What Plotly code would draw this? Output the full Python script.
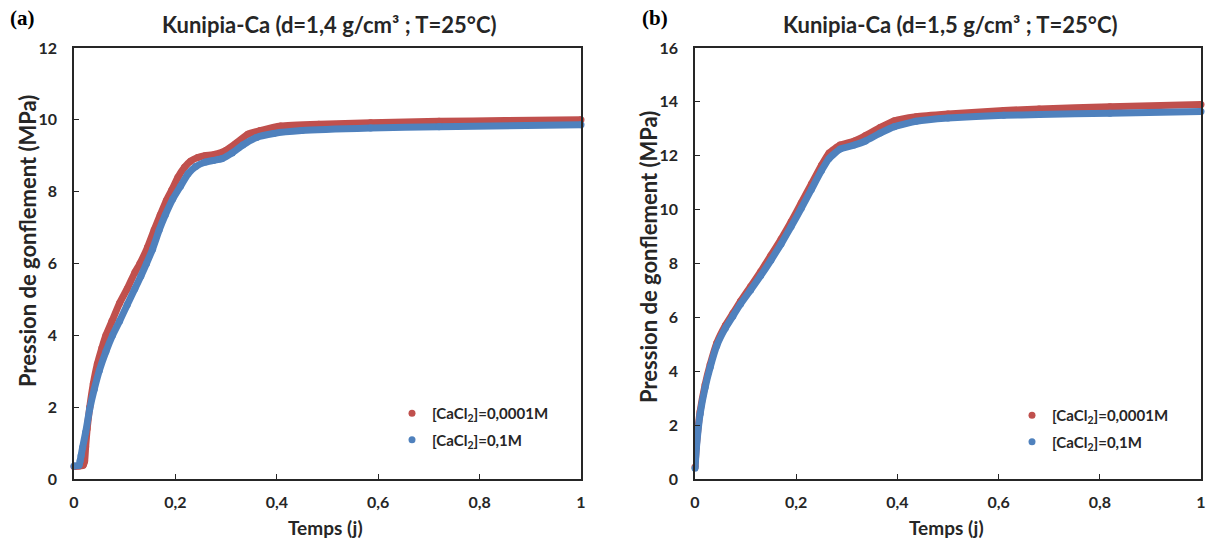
import plotly.graph_objects as go

# ---------------- data ----------------
# Panel (a): Kunipia-Ca d=1,4
t_a_red = [0, 0.01, 0.018, 0.021, 0.023, 0.026, 0.031, 0.038, 0.046, 0.055, 0.063, 0.075, 0.09, 0.105,
           0.12, 0.13, 0.145, 0.158, 0.17, 0.182, 0.193, 0.205, 0.218, 0.23, 0.244, 0.258, 0.278,
           0.30, 0.319, 0.343, 0.367, 0.408, 0.483, 0.585, 0.72, 0.85, 1.0]
p_a_red = [0.35, 0.36, 0.38, 0.5, 0.9, 1.4, 2.0, 2.65, 3.2, 3.65, 4.0, 4.4, 4.9, 5.3,
           5.75, 6.0, 6.45, 6.93, 7.35, 7.75, 8.05, 8.4, 8.68, 8.85, 8.95, 9.0, 9.04,
           9.15, 9.34, 9.6, 9.7, 9.83, 9.88, 9.92, 9.96, 9.98, 10.0]

t_a_blue = [0, 0.01, 0.012, 0.014, 0.017, 0.023, 0.031, 0.04, 0.05, 0.063, 0.076, 0.09, 0.105, 0.12,
            0.132, 0.143, 0.155, 0.168, 0.18, 0.195, 0.21, 0.225, 0.24, 0.258, 0.275, 0.292, 0.312,
            0.333, 0.36, 0.394, 0.449, 0.585, 0.72, 1.0]
p_a_blue = [0.36, 0.38, 0.5, 0.65, 0.88, 1.3, 1.95, 2.5, 3.02, 3.55, 4.0, 4.4, 4.85, 5.3,
            5.65, 6.0, 6.4, 6.93, 7.35, 7.8, 8.15, 8.5, 8.7, 8.82, 8.87, 8.92, 9.08,
            9.3, 9.51, 9.62, 9.7, 9.77, 9.81, 9.86]

# Panel (b): Kunipia-Ca d=1,5
t_b_red = [0, 0.003, 0.01, 0.02, 0.03, 0.043, 0.06, 0.075, 0.09, 0.11, 0.13, 0.15, 0.17, 0.19,
           0.21, 0.23, 0.25, 0.265, 0.287, 0.315, 0.337, 0.366, 0.394, 0.437, 0.50, 0.61, 0.68, 0.82, 1.0]
p_b_red = [0.45, 1.3, 2.5, 3.5, 4.25, 5.05, 5.7, 6.15, 6.6, 7.15, 7.7, 8.3, 8.9, 9.55,
           10.25, 10.95, 11.65, 12.1, 12.4, 12.55, 12.75, 13.05, 13.3, 13.45, 13.55, 13.68, 13.74, 13.82, 13.9]

t_b_blue = [0, 0.003, 0.01, 0.02, 0.03, 0.043, 0.06, 0.075, 0.09, 0.11, 0.13, 0.15, 0.17, 0.19,
            0.21, 0.23, 0.25, 0.265, 0.287, 0.315, 0.337, 0.366, 0.394, 0.437, 0.50, 0.61, 0.68, 0.82, 1.0]
p_b_blue = [0.4, 1.2, 2.4, 3.4, 4.15, 4.95, 5.6, 6.05, 6.5, 7.02, 7.55, 8.12, 8.72, 9.37,
            10.05, 10.75, 11.45, 11.9, 12.25, 12.4, 12.55, 12.84, 13.08, 13.28, 13.4, 13.5, 13.53, 13.58, 13.64]

series_names = ["[CaCl<sub>2</sub>]=0,0001M", "[CaCl<sub>2</sub>]=0,1M"]
titles = ["Kunipia-Ca (d=1,4 g/cm³ ; T=25°C)", "Kunipia-Ca (d=1,5 g/cm³ ; T=25°C)"]
panel_labels = ["(a)", "(b)"]
x_title = "Temps (j)"
y_title = "Pression de gonflement (MPa)"
x_tickvals = [0, 0.2, 0.4, 0.6, 0.8, 1]
x_ticktext = ["0", "0,2", "0,4", "0,6", "0,8", "1"]
y_ticks_a = [0, 2, 4, 6, 8, 10, 12]
y_ticks_b = [0, 2, 4, 6, 8, 10, 12, 14, 16]

RED = "#C0504D"
BLUE = "#4F81BD"
FONT = "Lato"
INK = "#262626"

W, H = 1212, 541
fig = go.Figure()


def add_series(t, p, color, name, xa, ya, legend):
    fig.add_trace(go.Scatter(x=t, y=p, mode="lines", line=dict(color=color, width=7, shape="spline", smoothing=0.4),
                             xaxis=xa, yaxis=ya, showlegend=False, cliponaxis=False, hoverinfo="skip"))
    fig.add_trace(go.Scatter(x=t, y=p, mode="markers", marker=dict(color=color, size=7),
                             xaxis=xa, yaxis=ya, name=name, legend=legend, legendgroup=name + legend,
                             cliponaxis=False))


add_series(t_a_red, p_a_red, RED, series_names[0], "x", "y", "legend")
add_series(t_a_blue, p_a_blue, BLUE, series_names[1], "x", "y", "legend")
add_series(t_b_red, p_b_red, RED, series_names[0], "x2", "y2", "legend2")
add_series(t_b_blue, p_b_blue, BLUE, series_names[1], "x2", "y2", "legend2")

pa = (74, 581)
pb = (695, 1201)
top, bottom = 48, 479

tick_font = dict(family=FONT, size=16, color=INK, weight="bold")
axis_common = dict(showline=True, linecolor=INK, linewidth=1.5, mirror=True, ticks="inside",
                   ticklen=5, tickcolor=INK, showgrid=False, zeroline=False, automargin=False,
                   tickfont=tick_font)
legend_common = dict(xanchor="left", yanchor="top", bgcolor="rgba(0,0,0,0)",
                     font=dict(family=FONT, size=15, color=INK, weight="bold"), traceorder="grouped",
                     tracegroupgap=4, itemwidth=30)

fig.update_layout(
    template="none",
    width=W, height=H, margin=dict(l=0, r=0, t=0, b=0, pad=0), autosize=False,
    paper_bgcolor="white", plot_bgcolor="white",
    font=dict(family=FONT, color=INK),
    xaxis=dict(domain=[pa[0] / W, pa[1] / W], range=[0, 1], anchor="y", tickvals=x_tickvals,
               ticktext=x_ticktext, ticklabelstandoff=8, **axis_common),
    yaxis=dict(domain=[1 - bottom / H, 1 - top / H], range=[0, 12], anchor="x", tickvals=y_ticks_a,
               ticktext=[str(v) for v in y_ticks_a], ticklabelstandoff=12, **axis_common),
    xaxis2=dict(domain=[pb[0] / W, pb[1] / W], range=[0, 1], anchor="y2", tickvals=x_tickvals,
                ticktext=x_ticktext, ticklabelstandoff=8, **axis_common),
    yaxis2=dict(domain=[1 - bottom / H, 1 - top / H], range=[0, 16], anchor="x2", tickvals=y_ticks_b,
                ticktext=[str(v) for v in y_ticks_b], ticklabelstandoff=12, **axis_common),
    legend=dict(x=392 / W, y=1 - 397 / H, **legend_common),
    legend2=dict(x=1012 / W, y=1 - 399 / H, **legend_common),
)

ytitle_pos = [(27, 241), (648, 257)]
for i, (lo, hi) in enumerate([pa, pb]):
    fig.add_annotation(text=titles[i], x=(lo + hi) / 2 / W + 2 / W, y=1 - 24 / H, xref="paper", yref="paper",
                       showarrow=False, font=dict(family=FONT, size=22, color=INK, weight="bold"),
                       xanchor="center", yanchor="middle")
    fig.add_annotation(text=panel_labels[i], x=(8 if i == 0 else 640) / W, y=1 - 18 / H,
                       xref="paper", yref="paper", showarrow=False,
                       font=dict(family="Liberation Serif", size=21, color="black", weight="bold"),
                       xanchor="left", yanchor="middle")
    fig.add_annotation(text=x_title, x=(lo + hi) / 2 / W - 2 / W, y=1 - 527 / H, xref="paper", yref="paper",
                       showarrow=False, font=dict(family=FONT, size=19, color=INK, weight="bold"),
                       xanchor="center", yanchor="middle")
    fig.add_annotation(text=y_title, x=ytitle_pos[i][0] / W, y=1 - ytitle_pos[i][1] / H, xref="paper",
                       yref="paper", showarrow=False, textangle=-90,
                       font=dict(family=FONT, size=22, color=INK, weight="bold"),
                       xanchor="center", yanchor="middle")

fig.write_html("out.html", config={"displayModeBar": False},
               post_script="document.body.style.margin='0';")
